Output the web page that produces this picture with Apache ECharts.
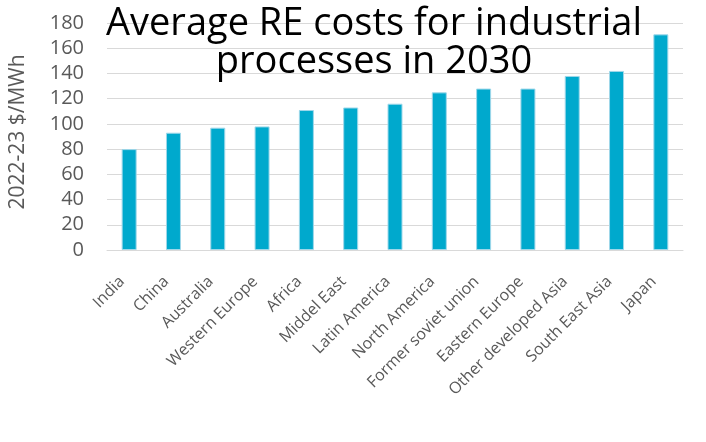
<!DOCTYPE html>
<html>
<head>
<meta charset="utf-8">
<script src="https://cdn.jsdelivr.net/npm/echarts@6/dist/echarts.min.js"></script>
<style>
  html, body { margin: 0; padding: 0; background: #fff; }
  #main { width: 706px; height: 442px; }
</style>
</head>
<body>
<div id="main"></div>
<script>
const regions = [
  "India", "China", "Australia", "Western Europe", "Africa", "Middel East",
  "Latin America", "North America", "Former soviet union", "Eastern Europe",
  "Other developed Asia", "South East Asia", "Japan"
];
const costs = [80, 93, 97, 98, 111, 113, 116, 125, 128, 128, 138, 142, 171];

const chart = echarts.init(document.getElementById("main"));

const option = {
  animation: false,
  title: {
    text: "Average RE costs for industrial\nprocesses in 2030",
    left: 369,
    top: 0,
    textAlign: "center",
    textStyle: {
      fontFamily: "Open Sans",
      fontWeight: "normal",
      fontSize: 38,
      lineHeight: 38,
      color: "#000",
    },
  },
  grid: {
    left: 100,
    right: 23,
    top: 23,
    bottom: 192,
  },
  xAxis: {
    type: "category",
    data: regions,
    axisLine: { lineStyle: { color: "#d9d9d9" } },
    axisTick: { show: false },
    axisLabel: {
      rotate: 45,
      interval: 0,
      margin: 22,
      padding: [0, 10, 0, 0],
      color: "#595959",
      fontFamily: "Open Sans",
      fontSize: 16,
    },
  },
  yAxis: {
    type: "value",
    min: 0,
    max: 180,
    interval: 20,
    name: "2022-23 $/MWh",
    nameLocation: "middle",
    nameGap: 78,
    nameTextStyle: {
      color: "#595959",
      fontFamily: "Open Sans",
      fontSize: 21,
      padding: [0, 0, 0, 9],
    },
    axisLine: { show: false },
    axisTick: { show: false },
    axisLabel: {
      color: "#595959",
      fontFamily: "Open Sans",
      fontSize: 20,
      margin: 23,
    },
    splitLine: { lineStyle: { color: "#d9d9d9" } },
  },
  series: [
    {
      type: "bar",
      data: costs,
      barWidth: 15,
      itemStyle: {
        color: "#00a9cd",
        borderColor: "#9fd8ea",
        borderWidth: 1,
      },
    },
  ],
};

chart.setOption(option);
</script>
</body>
</html>
